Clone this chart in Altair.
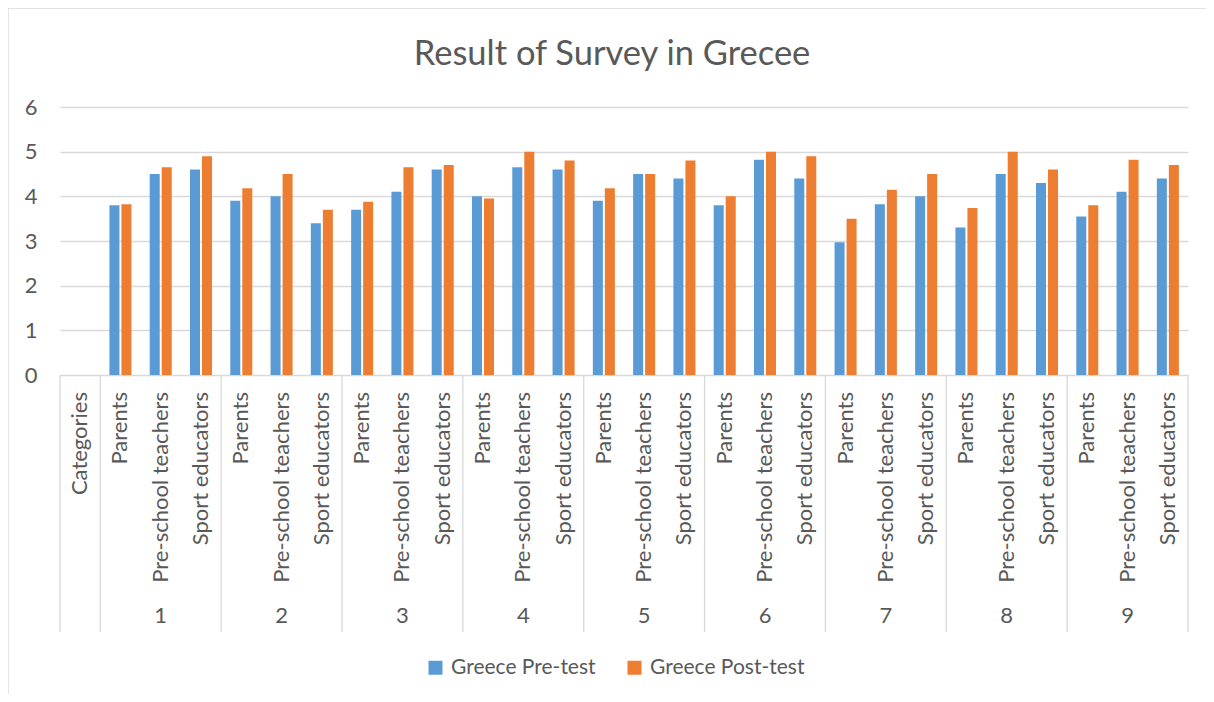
import altair as alt
import pandas as pd

title_text = "Result of Survey in Grecee"
groups = ["1", "2", "3", "4", "5", "6", "7", "8", "9"]
roles = ["Parents", "Pre-school teachers", "Sport educators"]
first_slot_label = "Categories"
series_names = ["Greece Pre-test", "Greece Post-test"]
series_colors = ["#5B9BD5", "#ED7D31"]

pre_test = [3.8, 4.5, 4.6,
            3.9, 4.0, 3.4,
            3.7, 4.1, 4.6,
            4.0, 4.65, 4.6,
            3.9, 4.5, 4.4,
            3.8, 4.82, 4.4,
            2.97, 3.82, 4.0,
            3.3, 4.5, 4.3,
            3.55, 4.1, 4.4]
post_test = [3.82, 4.65, 4.9,
             4.18, 4.5, 3.7,
             3.88, 4.65, 4.7,
             3.95, 5.0, 4.8,
             4.18, 4.5, 4.8,
             4.0, 5.0, 4.9,
             3.5, 4.15, 4.5,
             3.74, 5.0, 4.6,
             3.8, 4.82, 4.7]
y_ticks = [0, 1, 2, 3, 4, 5, 6]

FONT = "Lato"
TXT = "#595959"
GRID = "#D9D9D9"

slots = ["0|" + first_slot_label] + [f"{g}|{r}" for g in groups for r in roles]
slot_labels = [first_slot_label] + [r for g in groups for r in roles]

rows = []
i = 0
for g in groups:
    for r in roles:
        rows.append({"slot": f"{g}|{r}", "series": series_names[0], "value": pre_test[i]})
        rows.append({"slot": f"{g}|{r}", "series": series_names[1], "value": post_test[i]})
        i += 1
df = pd.DataFrame(rows)

W, H = 1128, 268

xscale = alt.Scale(domain=slots, paddingInner=0, paddingOuter=0)

bars = alt.Chart(df).mark_bar().encode(
    x=alt.X("slot:N", scale=xscale, title=None,
            axis=alt.Axis(labels=False, ticks=False, tickSize=0,
                          domainColor=GRID, domainWidth=1.3, grid=False)),
    xOffset=alt.XOffset("series:N",
                        scale=alt.Scale(domain=series_names, paddingInner=1/6, paddingOuter=0.76)),
    y=alt.Y("value:Q", scale=alt.Scale(domain=[0, 6], nice=False),
            axis=alt.Axis(values=y_ticks, title=None, domain=False, ticks=False, tickSize=0,
                          labelPadding=23, gridColor=GRID, gridWidth=1.3,
                          labelFont=FONT, labelFontSize=22, labelColor=TXT)),
    color=alt.Color("series:N",
                    scale=alt.Scale(domain=series_names, range=series_colors),
                    legend=alt.Legend(title=None, orient="none", legendX=365, legendY=550,
                                      direction="horizontal", symbolType="square",
                                      symbolSize=196, symbolStrokeWidth=0, symbolOpacity=1,
                                      labelFont=FONT, labelFontSize=21, labelColor=TXT,
                                      labelLimit=400,
                                      labelOffset=5, columnPadding=28, padding=0)),
)

cat_df = pd.DataFrame({"slot": slots, "label": slot_labels})
cat_text = alt.Chart(cat_df).mark_text(font=FONT, fontSize=22, color=TXT, angle=270,
                                       align="right", baseline="middle").encode(
    x=alt.X("slot:N", scale=xscale, axis=None),
    y=alt.value(H + 17),
    text="label:N",
)

glab = pd.DataFrame({"slot": [f"{g}|{roles[1]}" for g in groups], "label": groups})
group_text = alt.Chart(glab).mark_text(font=FONT, fontSize=22, color=TXT, baseline="middle").encode(
    x=alt.X("slot:N", scale=xscale, axis=None),
    y=alt.value(509),
    text="label:N",
)

sep_df = pd.DataFrame({"slot": [slots[0]] + [f"{g}|{roles[0]}" for g in groups]})
seps = alt.Chart(sep_df).mark_rule(color=GRID, strokeWidth=1.3).encode(
    x=alt.X("slot:N", scale=xscale, axis=None, bandPosition=0),
    y=alt.value(H), y2=alt.value(525),
)
end_df = pd.DataFrame({"slot": [slots[-1]]})
sep_end = alt.Chart(end_df).mark_rule(color=GRID, strokeWidth=1.3).encode(
    x=alt.X("slot:N", scale=xscale, axis=None, bandPosition=1),
    y=alt.value(H), y2=alt.value(525),
)

title_df = pd.DataFrame({"t": [title_text]})
title = alt.Chart(title_df).mark_text(font=FONT, fontSize=34.5, color=TXT, align="center",
                                      baseline="alphabetic").encode(
    x=alt.value(552), y=alt.value(-42), text="t:N")

one = pd.DataFrame({"a": [0]})
frame_left = alt.Chart(one).mark_rule(color=GRID, strokeWidth=1.3).encode(
    x=alt.value(-52), y=alt.value(-99), y2=alt.value(587))
frame_top = alt.Chart(one).mark_rule(color=GRID, strokeWidth=1.3).encode(
    x=alt.value(-52), x2=alt.value(1146), y=alt.value(-99))

chart = alt.layer(bars, seps, sep_end, cat_text, group_text, title, frame_left, frame_top).properties(
    width=W, height=H,
    autosize=alt.AutoSizeParams(type="none"),
    padding={"left": 52, "top": 99, "right": 18, "bottom": 319},
    background="white",
).configure_view(stroke=None)

chart.save("out.html", embed_options={"renderer": "svg", "actions": False})
